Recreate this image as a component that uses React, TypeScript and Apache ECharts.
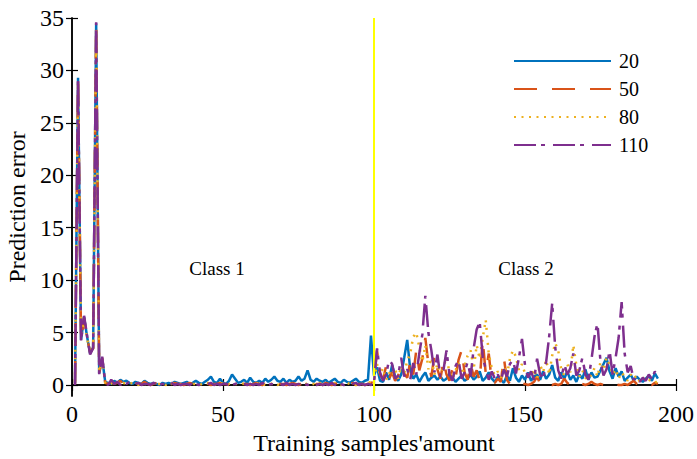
import React, { useEffect, useRef } from "react";
import * as echarts from "echarts";

// Prediction error per training sample (samples 1..194) for four settings
const series20 = [
  0.2, 29.3, 4.3, 6.5, 4.6, 3.0, 3.6, 34.5, 1.1, 2.5,
  0.3, 0.2, 0.1, 0.4, 0.2, 0.5, 0.3, 0.4, 0.2, 0.1,
  0.3, 0.2, 0.1, 0.4, 0.2, 0.1, 0.2, 0.1, 0.0, 0.2,
  0.1, 0.2, 0.1, 0.3, 0.2, 0.1, 0.2, 0.3, 0.1, 0.2,
  0.4, 0.2, 0.1, 0.3, 0.5, 0.8, 0.3, 0.2, 0.6, 0.2,
  0.1, 0.4, 1.0, 0.6, 0.2, 0.3, 0.5, 0.2, 0.7, 0.3,
  0.2, 0.4, 0.2, 0.6, 0.3, 0.5, 0.8, 0.4, 0.3, 0.6,
  0.2, 0.5, 0.3, 0.4, 0.8, 0.4, 0.6, 1.4, 0.5, 0.3,
  0.6, 0.4, 0.3, 0.5, 0.2, 0.4, 0.6, 0.3, 0.2, 0.5,
  0.3, 0.2, 0.4, 0.6, 0.3, 0.2, 0.4, 0.5, 4.7, 0.9,
  1.7, 0.4, 0.3, 1.2, 0.5, 1.9, 0.8, 0.4, 1.0, 2.6,
  4.3, 1.5, 0.6, 1.0, 0.3, 0.8, 1.2, 0.4, 0.7, 0.9,
  0.5, 0.8, 0.4, 0.6, 1.1, 0.7, 0.3, 0.6, 0.9, 0.4,
  0.6, 1.0, 0.5, 0.8, 1.3, 0.4, 0.7, 1.2, 0.6, 0.3,
  0.8, 0.5, 0.2, 0.9, 0.4, 1.6, 0.7, 0.3, 0.9, 0.5,
  1.2, 0.4, 0.8, 1.0, 0.5, 1.3, 0.6, 1.0, 1.9, 0.7,
  0.4, 1.2, 0.6, 1.3, 0.5, 0.9, 0.3, 1.0, 0.6, 1.5,
  0.5, 1.2, 0.7, 0.8, 1.4, 2.0, 2.6, 1.3, 0.6, 1.6,
  0.8, 1.3, 0.4, 0.7, 1.0, 0.4, 0.8, 0.5, 0.3, 0.6,
  0.9, 0.4, 1.1, 0.6,
];

const series50 = [
  0.1, 29.0, 4.4, 6.4, 4.5, 3.1, 3.5, 34.3, 1.2, 2.6,
  0.2, 0.1, 0.3, 0.1, 0.2, 0.4, 0.1, 0.2, 0.1, 0.0,
  0.2, 0.1, 0.1, 0.3, 0.1, 0.0, 0.1, 0.2, 0.1, 0.0,
  0.1, 0.0, 0.1, 0.2, 0.1, 0.1, 0.0, 0.1, 0.2, 0.1,
  0.0, 0.1, 0.1, 0.2, 0.1, 0.0, 0.1, 0.1, 0.2, 0.1,
  0.1, 0.0, 0.1, 0.2, 0.1, 0.0, 0.1, 0.1, 0.0, 0.1,
  0.2, 0.1, 0.0, 0.1, 0.1, 0.2, 0.1, 0.0, 0.1, 0.1,
  0.0, 0.1, 0.2, 0.1, 0.0, 0.1, 0.1, 0.2, 0.1, 0.0,
  0.1, 0.1, 0.0, 0.2, 0.1, 0.0, 0.1, 0.2, 0.1, 0.0,
  0.1, 0.1, 0.2, 0.0, 0.1, 0.1, 0.0, 0.1, 0.2, 0.3,
  3.3, 1.0, 0.5, 1.8, 0.6, 1.2, 0.4, 0.9, 2.0, 1.1,
  0.7, 2.2, 1.0, 3.3, 1.4, 2.5, 4.5, 2.0, 0.8, 2.8,
  1.5, 0.6, 2.3, 1.0, 0.4, 1.6, 0.7, 2.4, 3.3, 1.2,
  0.5, 2.0, 0.8, 1.4, 0.4, 4.3, 1.1, 3.0, 0.3, 0.2,
  0.6, 0.3, 2.6, 0.5, 0.1, 0.1, 0.2, 0.0, 0.1, 0.1,
  0.0, 0.1, 0.3, 0.8, 0.1, 0.0, 0.0, 0.1, 0.0, 0.1,
  0.0, 0.1, 0.6, 0.2, 0.0, 0.1, 0.0, 0.2, 0.1, 0.0,
  0.1, 0.3, 0.1, 0.0, 0.1, 0.0, 0.0, 0.1, 0.0, 0.1,
  0.0, 0.0, 0.1, 0.0, 0.2, 0.4, 0.1, 0.0, 0.1, 0.0,
  0.1, 0.0, 0.2, 0.1,
];

const series80 = [
  0.3, 28.8, 4.6, 6.3, 4.4, 3.2, 3.4, 34.0, 1.3, 2.4,
  0.2, 0.1, 0.2, 0.0, 0.3, 0.1, 0.2, 0.1, 0.1, 0.2,
  0.1, 0.0, 0.2, 0.1, 0.1, 0.2, 0.0, 0.1, 0.1, 0.2,
  0.0, 0.1, 0.2, 0.1, 0.0, 0.1, 0.2, 0.1, 0.0, 0.1,
  0.1, 0.2, 0.0, 0.1, 0.2, 0.1, 0.1, 0.0, 0.2, 0.1,
  0.0, 0.1, 0.2, 0.1, 0.1, 0.0, 0.2, 0.1, 0.1, 0.0,
  0.1, 0.2, 0.1, 0.0, 0.1, 0.1, 0.2, 0.0, 0.1, 0.2,
  0.1, 0.0, 0.1, 0.2, 0.1, 0.1, 0.0, 0.2, 0.1, 0.1,
  0.0, 0.2, 0.1, 0.1, 0.0, 0.1, 0.2, 0.1, 0.0, 0.1,
  0.2, 0.1, 0.1, 0.0, 0.2, 0.1, 0.1, 0.2, 0.3, 0.4,
  2.0, 1.0, 1.6, 0.5, 1.2, 0.8, 1.5, 0.6, 1.8, 1.1,
  2.3, 3.0, 4.6, 5.0, 3.6, 2.2, 3.8, 1.5, 2.6, 1.0,
  2.0, 0.8, 1.7, 2.6, 1.2, 0.6, 1.4, 2.1, 1.0, 1.8,
  2.8, 3.3, 1.5, 3.8, 2.5, 4.5, 6.2, 3.0, 1.6, 0.9,
  1.3, 0.7, 1.8, 0.9, 2.5, 3.3, 2.7, 1.4, 2.0, 1.1,
  1.1, 0.8, 1.5, 0.6, 1.9, 1.2, 2.4, 1.0, 2.8, 4.0,
  3.3, 1.5, 0.9, 2.0, 1.2, 3.8, 1.9, 0.8, 1.4, 0.7,
  0.5, 1.0, 1.6, 0.8, 2.2, 1.4, 2.6, 1.9, 1.0, 1.5,
  0.6, 1.2, 0.8, 0.4, 1.0, 0.6, 0.9, 0.3, 0.7, 0.4,
  0.5, 0.3, 0.2, 0.4,
];

const series110 = [
  0.0, 29.2, 4.2, 6.6, 4.7, 2.9, 3.5, 34.6, 1.0, 2.7,
  0.2, 0.0, 0.5, 0.1, 0.3, 0.0, 0.2, 0.1, 0.3, 0.0,
  0.1, 0.2, 0.0, 0.1, 0.1, 0.0, 0.2, 0.1, 0.0, 0.1,
  0.0, 0.1, 0.2, 0.0, 0.1, 0.0, 0.1, 0.1, 0.0, 0.2,
  0.1, 0.0, 0.1, 0.0, 0.1, 0.2, 0.0, 0.1, 0.0, 0.1,
  0.1, 0.0, 0.0, 0.1, 0.2, 0.0, 0.1, 0.0, 0.1, 0.0,
  0.1, 0.0, 0.2, 0.1, 0.0, 0.1, 0.0, 0.1, 0.1, 0.0,
  0.2, 0.0, 0.1, 0.0, 0.1, 0.0, 0.1, 0.0, 0.2, 0.1,
  0.0, 0.1, 0.0, 0.1, 0.0, 0.2, 0.0, 0.1, 0.1, 0.0,
  0.1, 0.0, 0.1, 0.2, 0.0, 0.1, 0.0, 0.1, 0.0, 0.2,
  3.5, 1.2, 0.4, 1.0, 2.4, 2.0, 0.6, 0.9, 2.6, 0.8,
  1.5, 0.5, 2.1, 1.0, 3.0, 4.8, 8.5, 5.0, 3.3, 1.2,
  2.9, 0.7, 1.4, 3.3, 1.0, 0.4, 1.8, 2.4, 0.6, 1.2,
  2.2, 0.8, 3.5, 5.3, 6.0, 2.7, 1.5, 0.5, 1.3, 0.6,
  1.0, 0.4, 1.5, 0.8, 2.0, 2.4, 1.1, 2.6, 4.4, 1.9,
  0.7, 1.3, 0.5, 2.5, 1.0, 0.6, 2.2, 4.6, 7.8, 3.6,
  1.4, 0.6, 2.0, 1.0, 1.6, 3.0, 0.9, 1.4, 2.6, 1.0,
  0.5, 2.4, 4.6, 5.9, 2.2, 0.9, 1.5, 3.3, 1.0, 2.6,
  4.5, 7.9, 3.0, 1.2, 1.8, 0.5, 0.8, 0.3, 0.7, 0.4,
  1.0, 0.6, 1.3, 0.7,
];

const seriesNames = ["20", "50", "80", "110"];
const seriesColors = ["#0072BD", "#D95319", "#EDB120", "#7E2F8E"];
const seriesDashes: (number[] | string)[] = ["solid", [23, 15], [2, 5.5], [22, 5, 4, 8]];
const yTicks = [0, 5, 10, 15, 20, 25, 30, 35];
const classBoundary = 100;
const classLabels = ["Class 1", "Class 2"];

const FONT = "Liberation Serif";

const toPairs = (vals: number[]) => vals.map((v, i) => [i + 1, v]);

export default function App() {
  const ref = useRef<HTMLDivElement>(null);

  useEffect(() => {
    if (!ref.current) return;
    const chart = echarts.init(ref.current, undefined, { renderer: "svg" });
    const allValues = [series20, series50, series80, series110];

    const tickStyle = { show: true, inside: true, length: 6, lineStyle: { color: "#000", width: 1.2 } };
    const lineAxis = { show: true, lineStyle: { color: "#000", width: 1.5 } };

    chart.setOption({
      animation: false,
      backgroundColor: "#fff",
      textStyle: { fontFamily: FONT },
      grid: { left: 72, top: 18, right: 21, bottom: 63, containLabel: false, outerBoundsMode: "none" },
      legend: {
        orient: "vertical",
        left: 508,
        top: 46,
        itemWidth: 97,
        itemHeight: 14,
        itemGap: 8,
        data: seriesNames,
        itemStyle: { opacity: 0 },
        textStyle: { fontFamily: FONT, fontSize: 20, color: "#000", lineHeight: 20, padding: [0, 0, 0, 3] },
      },
      xAxis: [
        {
          type: "value",
          min: 0,
          max: 200,
          interval: 50,
          name: "Training samples'amount",
          nameLocation: "middle",
          nameGap: 34,
          nameTextStyle: { fontFamily: FONT, fontSize: 24, color: "#000" },
          axisLine: lineAxis,
          axisTick: tickStyle,
          axisLabel: { fontFamily: FONT, fontSize: 24, color: "#000", margin: 6 },
          splitLine: { show: false },
        },
        {
          type: "value",
          position: "top",
          min: 0,
          max: 200,
          interval: 50,
          axisLine: lineAxis,
          axisTick: tickStyle,
          axisLabel: { show: false },
          splitLine: { show: false },
        },
      ],
      yAxis: [
        {
          type: "value",
          min: -1.05,
          max: 35,
          name: "Prediction error",
          nameLocation: "middle",
          nameGap: 37,
          nameTextStyle: { fontFamily: FONT, fontSize: 24, color: "#000" },
          axisLine: lineAxis,
          axisTick: { ...tickStyle, customValues: yTicks },
          axisLabel: { fontFamily: FONT, fontSize: 24, color: "#000", margin: 8, customValues: yTicks },
          splitLine: { show: false },
        },
        {
          type: "value",
          position: "right",
          min: -1.05,
          max: 35,
          axisLine: lineAxis,
          axisTick: { ...tickStyle, customValues: yTicks },
          axisLabel: { show: false, customValues: yTicks },
          splitLine: { show: false },
        },
      ],
      series: seriesNames.map((name, k) => ({
        type: "line",
        name,
        data: toPairs(allValues[k]),
        symbol: "none",
        showSymbol: false,
        color: seriesColors[k],
        lineStyle: { color: seriesColors[k], width: 2.5, type: seriesDashes[k] },
        z: 2 + k,
        markLine:
          k === 0
            ? {
                silent: true,
                symbol: "none",
                label: { show: false },
                lineStyle: { color: "#FFFF00", width: 2, type: "solid" },
                data: [{ xAxis: classBoundary }],
              }
            : undefined,
      })),
      graphic: [
        {
          type: "text",
          x: 217,
          y: 268,
          style: { text: classLabels[0], fontFamily: FONT, fontSize: 19, fill: "#000", textAlign: "center", textVerticalAlign: "middle" },
        },
        {
          type: "text",
          x: 526,
          y: 268,
          style: { text: classLabels[1], fontFamily: FONT, fontSize: 19, fill: "#000", textAlign: "center", textVerticalAlign: "middle" },
        },
      ],
    });

    return () => chart.dispose();
  }, []);

  return <div ref={ref} style={{ position: "fixed", left: 0, top: 0, width: 697, height: 459 }} />;
}
